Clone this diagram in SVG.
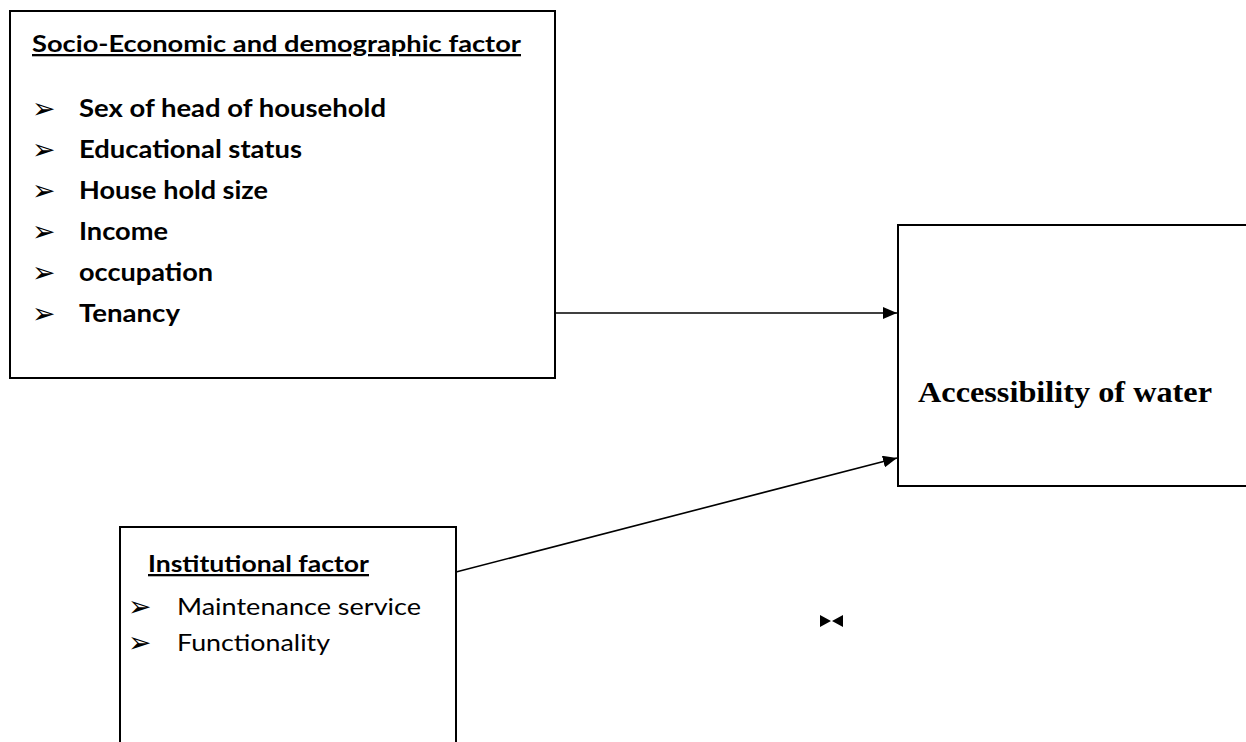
<svg xmlns="http://www.w3.org/2000/svg" width="1246" height="742" viewBox="0 0 1246 742">
<style>
.box{fill:#fff;stroke:#000;stroke-width:2}
.h{font-family:Lato,"Open Sans","Liberation Sans",sans-serif;font-weight:700;font-size:23px;text-decoration:underline}
.b{font-family:Lato,"Open Sans","Liberation Sans",sans-serif;font-weight:700;font-size:24px}
.n{font-family:Lato,"Open Sans","Liberation Sans",sans-serif;font-size:23px}
.bul{font-family:"DejaVu Sans",sans-serif;font-size:28px}
.t{font-family:"Liberation Serif",serif;font-weight:700;font-size:29px}
.c{stroke:#000;stroke-width:1.6;fill:none}
</style>
<defs>
<marker id="arr" markerWidth="14" markerHeight="12" refX="14" refY="6" orient="auto" markerUnits="userSpaceOnUse" viewBox="0 0 14 12">
<path d="M0,0 L14,6 L0,12 z" fill="#000"/>
</marker>
</defs>
<rect width="1246" height="742" fill="#fff"/>
<g id="connectors">
<line class="c" x1="555" y1="313" x2="897" y2="313" marker-end="url(#arr)"/>
<line class="c" x1="456" y1="572" x2="897" y2="458" marker-end="url(#arr)"/>
</g>
<g id="socio">
<rect class="box" x="10" y="11" width="545" height="367"/>
<text class="h" x="32" y="52" textLength="489" lengthAdjust="spacingAndGlyphs">Socio-Economic and demographic factor</text>
<g class="bul">
<text x="32" y="118">➢</text>
<text x="32" y="159">➢</text>
<text x="32" y="200">➢</text>
<text x="32" y="241">➢</text>
<text x="32" y="282">➢</text>
<text x="32" y="323">➢</text>
</g>
<text class="b" x="79" y="117" textLength="307" lengthAdjust="spacingAndGlyphs">Sex of head of household</text>
<text class="b" x="79" y="158" textLength="223" lengthAdjust="spacingAndGlyphs">Educational status</text>
<text class="b" x="79" y="199" textLength="189" lengthAdjust="spacingAndGlyphs">House hold size</text>
<text class="b" x="79" y="240" textLength="89" lengthAdjust="spacingAndGlyphs">Income</text>
<text class="b" x="79" y="281" textLength="134" lengthAdjust="spacingAndGlyphs">occupation</text>
<text class="b" x="79" y="322" textLength="101" lengthAdjust="spacingAndGlyphs">Tenancy</text>
</g>
<g id="institutional">
<rect class="box" x="120" y="527" width="336" height="230"/>
<text class="h" x="148" y="572" textLength="221" lengthAdjust="spacingAndGlyphs">Institutional factor</text>
<text class="bul" x="128" y="616">➢</text>
<text class="bul" x="128" y="652">➢</text>
<text class="n" x="177" y="615" textLength="244" lengthAdjust="spacingAndGlyphs">Maintenance service</text>
<text class="n" x="177" y="651" textLength="153" lengthAdjust="spacingAndGlyphs">Functionality</text>
</g>
<g id="access">
<rect class="box" x="898" y="225" width="360" height="261"/>
<text class="t" x="918" y="402" textLength="294" lengthAdjust="spacingAndGlyphs">Accessibility of water</text>
</g>
<g id="symbol">
<path d="M820,615 L831,621 L820,627 z M843,615 L832,621 L843,627 z" fill="#000"/>
</g>
</svg>
